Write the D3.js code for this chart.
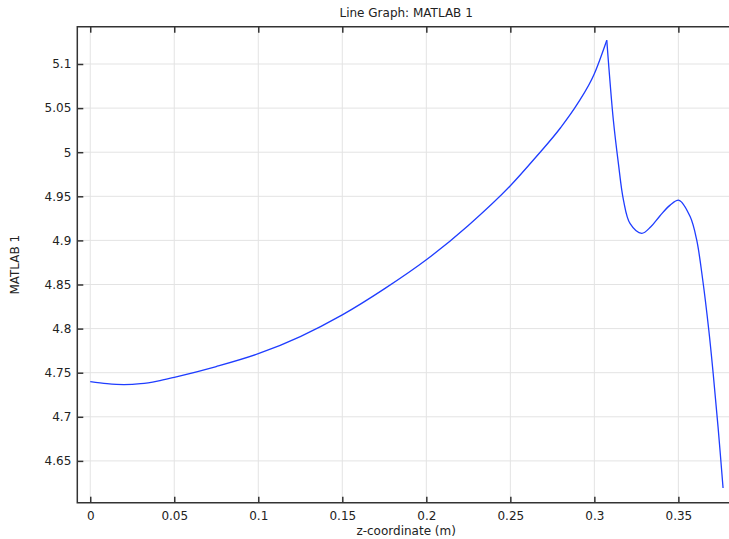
<!DOCTYPE html>
<html>
<head>
<meta charset="utf-8">
<script src="https://cdn.jsdelivr.net/npm/d3@7"></script>
<style>
  body { margin: 0; background: #fff; }
  svg { display: block; font-family: "DejaVu Sans", sans-serif; }
</style>
</head>
<body>
<svg id="chart"></svg>
<script>
// values
var zCoord = [0, 0.01, 0.02, 0.03, 0.04, 0.05, 0.075, 0.1, 0.125, 0.15,
    0.175, 0.2, 0.225, 0.25, 0.265, 0.28, 0.29, 0.3, 0.3074,
    0.3113, 0.3143, 0.3173, 0.3213, 0.3282, 0.3336, 0.3391, 0.3451, 0.3504, 0.357, 0.3609,
    0.3645, 0.3681, 0.3707, 0.3736, 0.3766];
var matlab1 = [4.7398, 4.7375, 4.7365, 4.7375, 4.7405, 4.7448, 4.757, 4.7715, 4.791, 4.8155,
    4.845, 4.878, 4.917, 4.962, 4.994, 5.028, 5.055, 5.089, 5.127,
    5.0365, 4.9874, 4.946, 4.919, 4.908, 4.9155, 4.928, 4.940, 4.9455, 4.927, 4.9005,
    4.8551, 4.7984, 4.7494, 4.6888, 4.6192];
var peakIndex = 18; // sharp corner at the peak
var xTicks = [0, 0.05, 0.1, 0.15, 0.2, 0.25, 0.3, 0.35];
var yTicks = [4.65, 4.7, 4.75, 4.8, 4.85, 4.9, 4.95, 5, 5.05, 5.1];

var width = 729,
    height = 539,
    margin = {top: 26.7, right: -6, bottom: 36.3, left: 77.3};

var plotTop = margin.top,
    plotBottom = height - margin.bottom,
    plotLeft = margin.left,
    plotRight = width - margin.right;

var data = zCoord.map(function (z, i) { return {z: z, v: matlab1[i]}; });

var svg = d3.select("#chart")
    .attr("width", width)
    .attr("height", height);

var x = d3.scaleLinear()
    .domain([-0.0077, 0.3837])
    .range([plotLeft, plotRight]);

var y = d3.scaleLinear()
    .domain([4.6026, 5.1423])
    .range([plotBottom, plotTop]);

// grid
svg.append("g")
    .selectAll("line")
    .data(xTicks)
    .enter()
    .append("line")
    .attr("x1", function (d) { return x(d); })
    .attr("x2", function (d) { return x(d); })
    .attr("y1", plotTop)
    .attr("y2", plotBottom)
    .style("stroke", "#e3e3e3")
    .style("stroke-width", 1);

svg.append("g")
    .selectAll("line")
    .data(yTicks)
    .enter()
    .append("line")
    .attr("x1", plotLeft)
    .attr("x2", plotRight)
    .attr("y1", function (d) { return y(d); })
    .attr("y2", function (d) { return y(d); })
    .style("stroke", "#e3e3e3")
    .style("stroke-width", 1);

// curve, in two pieces so the peak stays sharp
var rise = d3.line()
    .x(function (d) { return x(d.z); })
    .y(function (d) { return y(d.v); })
    .curve(d3.curveMonotoneX);

var fall = d3.line()
    .x(function (d) { return x(d.z); })
    .y(function (d) { return y(d.v); })
    .curve(d3.curveCatmullRom.alpha(0.5));

svg.append("path")
    .datum(data.slice(0, peakIndex + 1))
    .attr("d", rise)
    .style("fill", "none")
    .style("stroke", "#1f3dff")
    .style("stroke-width", 1.3);

svg.append("path")
    .datum(data.slice(peakIndex))
    .attr("d", fall)
    .style("fill", "none")
    .style("stroke", "#1f3dff")
    .style("stroke-width", 1.3);

// axes (ticks point inward)
var fmt = function (d) { return String(+d.toFixed(2)); };

svg.append("g")
    .attr("transform", "translate(0," + plotBottom + ")")
    .call(d3.axisBottom(x).tickValues(xTicks).tickFormat(fmt).tickSizeInner(-6).tickSizeOuter(0).tickPadding(9))
    .call(function (g) { g.select(".domain").remove(); });

svg.append("g")
    .attr("transform", "translate(0," + plotTop + ")")
    .call(d3.axisTop(x).tickValues(xTicks).tickFormat("").tickSizeInner(-6).tickSizeOuter(0))
    .call(function (g) { g.select(".domain").remove(); });

svg.append("g")
    .attr("transform", "translate(" + plotLeft + ",0)")
    .call(d3.axisLeft(y).tickValues(yTicks).tickFormat(fmt).tickSizeInner(-6).tickSizeOuter(0).tickPadding(6))
    .call(function (g) { g.select(".domain").remove(); });

svg.selectAll(".tick line").style("stroke", "#333").style("stroke-width", 1.5);
svg.selectAll(".tick text").style("font-size", "12px").style("fill", "#222")
    .style("font-family", "DejaVu Sans, sans-serif");

// frame: left, top, bottom
svg.append("path")
    .attr("d", "M" + plotRight + "," + plotTop + "H" + plotLeft + "V" + plotBottom + "H" + plotRight)
    .style("fill", "none")
    .style("stroke", "#333")
    .style("stroke-width", 1.5);

// labels
svg.append("text")
    .attr("x", (plotLeft + plotRight) / 2)
    .attr("y", 17)
    .attr("text-anchor", "middle")
    .style("font-size", "12px")
    .style("fill", "#222")
    .text("Line Graph: MATLAB 1");

svg.append("text")
    .attr("x", (plotLeft + plotRight) / 2)
    .attr("y", 535)
    .attr("text-anchor", "middle")
    .style("font-size", "12px")
    .style("fill", "#222")
    .text("z-coordinate (m)");

svg.append("text")
    .attr("transform", "translate(19," + (plotTop + plotBottom) / 2 + ") rotate(-90)")
    .attr("text-anchor", "middle")
    .style("font-size", "12px")
    .style("fill", "#222")
    .text("MATLAB 1");
</script>
</body>
</html>
